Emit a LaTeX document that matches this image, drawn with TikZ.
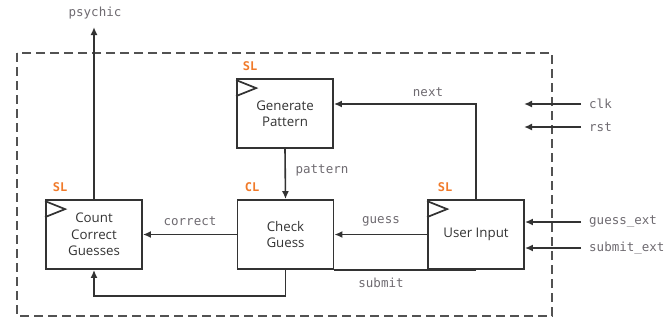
\documentclass[tikz,border=0pt]{standalone}
\usepackage{fontspec}
\setmainfont{Open Sans}
\newfontfamily\monof{DejaVu Sans Mono}
\usetikzlibrary{arrows.meta,calc}
\definecolor{ln}{HTML}{333333}
\definecolor{lbl}{HTML}{6E6A70}
\definecolor{org}{HTML}{F07A2A}
\tikzset{
  blk/.style={draw=ln,line width=1.8pt,minimum width=96pt,minimum height=69pt,inner sep=0pt,align=center,
    font=\fontsize{13.3}{16.5}\selectfont,text=ln},
  wire/.style={draw=ln,line width=1.6pt},
  arr/.style={wire,-{Latex[length=8pt,width=7pt]}},
  sig/.style={font=\monof\fontsize{12.5}{14}\selectfont,text=lbl,inner sep=0pt},
  tag/.style={font=\monof\bfseries\fontsize{12}{14}\selectfont,text=org,inner sep=0pt},
  clkmark/.style={draw=ln,line width=1.7pt,line join=miter},
  frame/.style={draw=ln!85,line width=1.9pt,dash pattern=on 9pt off 5pt}
}
\begin{document}
\begin{tikzpicture}[x=1pt,y=-1pt]
\useasboundingbox (0,0) rectangle (668,322);
\draw[frame] (17,53) rectangle (552,316);
% blocks
\node[blk] (gp) at (285,113.5) {Generate\\Pattern};
\node[blk] (cg) at (285.5,234.5) {Check\\Guess};
\node[blk] (cc) at (94,234.5) {Count\\Correct\\Guesses};
\node[blk] (ui) at (476,234.5) {User Input};
% clock marks
\foreach \b in {gp,cc,ui}{
  \draw[clkmark] ($(\b.north west)+(0,2)$) -- ($(\b.north west)+(20,10)$) -- ($(\b.north west)+(0,18)$);
}
% type tags
\node[tag] (t1) at (250,66) {SL};
\node[tag] (t2) at (252,187) {CL};
\node[tag] (t3) at (60,187) {SL};
\node[tag] (t4) at (445,187) {SL};
% internal wires
\coordinate (nexty) at (400,104);
\draw[arr] (ui.north) |- (nexty -| gp.east);
\node[sig] (lnext) at (428,92) {next};
\draw[arr] (gp.south) -- (cg.north);
\node[sig] (lpat) at (322,170) {pattern};
\draw[arr] (ui.west) -- (cg.east);
\node[sig] (lguess) at (381,221) {guess};
\draw[arr] (cg.west) -- (cc.east);
\node[sig] (lcorr) at (190,221) {correct};
\draw[wire] (ui.south) -- (cg.south east);
\node[sig] (lsub) at (381,283) {submit};
\draw[arr] (cg.south) -- ++(0,26) -| (cc.south);
% output
\coordinate (psy) at (94,27);
\draw[arr] (cc.north) -- (psy);
\node[sig] (lpsy) at (95,13) {psychic};
% external inputs
\coordinate (clkin) at (581,104);
\coordinate (rstin) at (581,127);
\coordinate (clkend) at (524,104);
\coordinate (rstend) at (524,127);
\draw[arr] (clkin) -- (clkend);
\draw[arr] (rstin) -- (rstend);
\node[sig,anchor=west] (lclk) at (589,104) {clk};
\node[sig,anchor=west] (lrst) at (589,127) {rst};
\coordinate (gein) at (581,222);
\coordinate (sein) at (581,248);
\draw[arr] (gein) -- (gein -| ui.east);
\draw[arr] (sein) -- (sein -| ui.east);
\node[sig,anchor=west] (lge) at (589,222) {guess\_ext};
\node[sig,anchor=west] (lse) at (589,248) {submit\_ext};
\end{tikzpicture}
\end{document}
